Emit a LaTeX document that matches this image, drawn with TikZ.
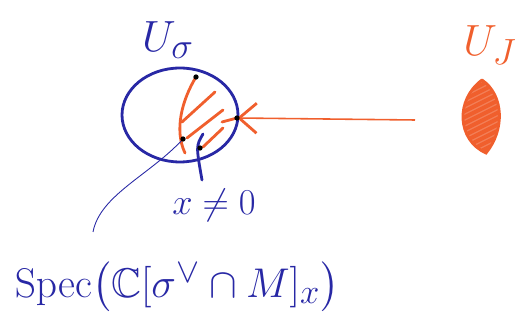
\documentclass[tikz,border=0pt]{standalone}
\usepackage{amsmath,amssymb}
\usetikzlibrary{arrows.meta}
\definecolor{pen}{RGB}{40,40,165}
\definecolor{marker}{RGB}{240,95,45}
\tikzset{bluestroke/.style={pen,line width=1.6pt,line cap=round},
	orangestroke/.style={marker,line width=1.6pt,line cap=round}}

\begin{document}
\begin{tikzpicture}[x=0.02cm,y=-0.02cm]
			\useasboundingbox (0,0) rectangle (521,323);
			% points used by the strokes
			\coordinate (top) at (196,77);
			\coordinate (east) at (237,118);
			\coordinate (base) at (183,139);
			\coordinate (xpt) at (200,148);
			\coordinate (tail) at (415,120);
			\coordinate (foot) at (93,232);
			% U sigma
			\draw[bluestroke] (180,115) ellipse (1.16cm and 0.94cm);
			\node[pen,font=\Huge] (usig) at (168,40) {$U_\sigma$};
			% shaded part
			\draw[orangestroke] (top) .. controls (182,100) and (174,130) .. (185,153);
			\draw[orangestroke] (215,92) -- (182,122);
			\draw[orangestroke] (223,110) -- (187,138);
			\draw[orangestroke] (223,128) -- (203,147);
			\draw[orangestroke] (east) -- (222,122);
			% U J
			\node[marker,font=\Huge] (uj) at (490,45) {$U_J$};
			\draw[orangestroke,fill=marker!80] (482,80) .. controls (455,100) and (457,140) .. (486,153)
				.. controls (505,130) and (504,95) .. (482,80);
			\begin{scope}
				\clip (482,80) .. controls (455,100) and (457,140) .. (486,153)
					.. controls (505,130) and (504,95) .. (482,80);
				\foreach \k in {0,...,12}
					\draw[marker,line width=2.2pt] (455,92+6*\k) -- (505,67+6*\k);
			\end{scope}
			% arrow
			\draw[marker,line width=0.9pt,-{Straight Barb[length=3.5mm,width=6mm,line width=1.6pt]}] (tail) -- (east);
			% x not 0
			\draw[bluestroke] (203,134) .. controls (196,146) .. (202,180);
			\node[pen,font=\huge] (xne) at (214,205) {$x\neq0$};
			% Spec
			\draw[pen,line width=0.5pt] (base) .. controls (150,175) and (100,195) .. (foot);
			\node[pen,font=\Huge,scale=0.95] (spec) at (177,287) {$\operatorname{Spec}\bigl(\mathbb{C}[\sigma^\vee\cap M]_x\bigr)$};
			% dots
			\fill (top) circle (1.5pt);
			\fill (east) circle (1.5pt);
			\fill (base) circle (1.5pt);
			\fill (xpt) circle (1.5pt);
		\end{tikzpicture}
\end{document}
